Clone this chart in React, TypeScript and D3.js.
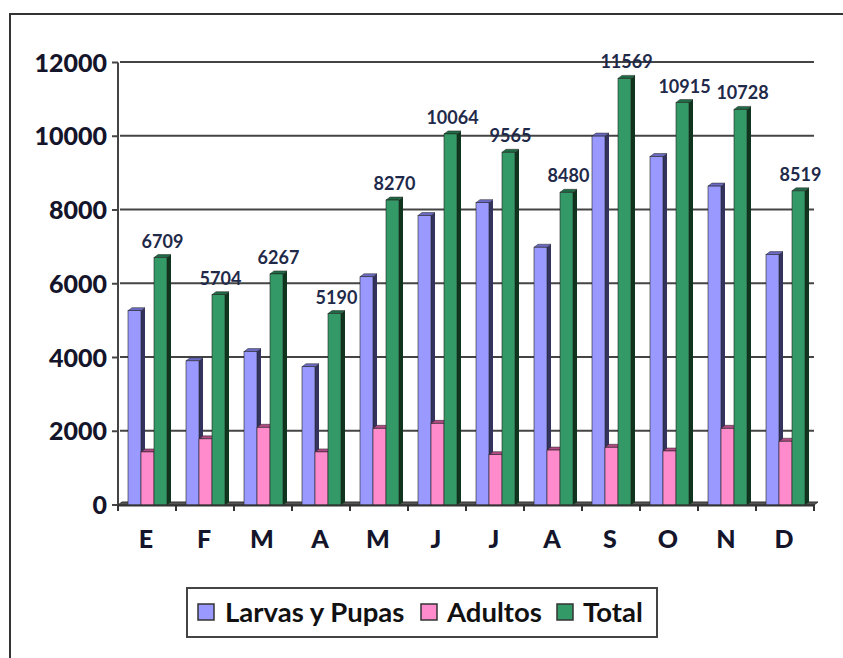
import React from "react";
import * as d3 from "d3";

const months = ["E", "F", "M", "A", "M", "J", "J", "A", "S", "O", "N", "D"];
const larvas = [5270, 3910, 4160, 3750, 6190, 7850, 8200, 6990, 10004, 9450, 8648, 6790];
const adultos = [1439, 1794, 2107, 1440, 2080, 2214, 1365, 1490, 1565, 1465, 2080, 1729];
const totals = [6709, 5704, 6267, 5190, 8270, 10064, 9565, 8480, 11569, 10915, 10728, 8519];
const yTicks = [0, 2000, 4000, 6000, 8000, 10000, 12000];
const seriesNames = ["Larvas y Pupas", "Adultos", "Total"];

const W = 843;
const H = 658;
const FONT = "Lato, 'Open Sans', sans-serif";

const colors = [
  { front: "#9999ff", side: "#33335e", top: "#6b6bc4" },
  { front: "#ff8acc", side: "#7a2950", top: "#b04a84" },
  { front: "#339966", side: "#10351f", top: "#1f6b45" },
];

export default function App() {
  const y = d3.scaleLinear().domain([0, 12000]).range([505, 62.5]);
  const x = d3
    .scaleBand<number>()
    .domain(months.map((_, i) => i))
    .range([118, 814])
    .padding(0);
  const inner = d3.scaleBand<number>().domain([0, 1, 2]).range([10, 49]).padding(0);
  const dx = 4;
  const dy = -3;
  const y0 = y(0);
  const series = [larvas, adultos, totals];

  const bar = (xs: number, w: number, v: number, c: { front: string; side: string; top: string }, key: string) => {
    const yt = y(v);
    return (
      <g key={key}>
        <polygon
          points={`${xs + w},${yt} ${xs + w + dx},${yt + dy} ${xs + w + dx},${y0 + dy} ${xs + w},${y0}`}
          fill={c.side}
        />
        <polygon
          points={`${xs},${yt} ${xs + dx},${yt + dy} ${xs + w + dx},${yt + dy} ${xs + w},${yt}`}
          fill={c.top}
          stroke="#222"
          strokeWidth={0.5}
        />
        <rect x={xs} y={yt} width={w} height={y0 - yt} fill={c.front} stroke="#222" strokeWidth={0.6} />
      </g>
    );
  };

  const legendX = [198, 421, 557];
  const legendTextX = [225, 447, 583];

  return (
    <div style={{ position: "absolute", left: 0, top: 0 }}>
      <svg width={W} height={H} style={{ display: "block", background: "#fff" }}>
        <rect x={10} y={14} width={850} height={670} fill="#fff" stroke="#333" strokeWidth={2} />
        {/* gridlines */}
        {yTicks.slice(1).map((t) => (
          <line key={"g" + t} x1={120} x2={814} y1={y(t) - 0.5} y2={y(t) - 0.5} stroke="#444" strokeWidth={2} />
        ))}
        {/* y axis */}
        <line x1={118} x2={118} y1={y(12000)} y2={y0 + 1} stroke="#444" strokeWidth={2} />
        {yTicks.map((t) => (
          <g key={"t" + t}>
            <line x1={112} x2={118} y1={y(t)} y2={y(t)} stroke="#444" strokeWidth={2} />
            <text
              x={107}
              y={y(t)}
              dy="0.36em"
              textAnchor="end"
              fontFamily={FONT}
              fontWeight="900"
              fontSize={25}
              fill="#14142a"
            >
              {t}
            </text>
          </g>
        ))}
        {/* floor */}
        <polygon
          points={`118,${y0} ${118 + dx},${y0 + dy} ${814 + dx},${y0 + dy} 814,${y0}`}
          fill="#555"
          stroke="#333"
          strokeWidth={1}
        />
        {/* bars */}
        {months.map((_, i) => (
          <g key={"c" + i}>
            {series.map((s, j) =>
              bar((x(i) as number) + (inner(j) as number), inner.bandwidth(), s[i], colors[j], `b${i}-${j}`)
            )}
          </g>
        ))}
        {/* x axis */}
        <line x1={118} x2={814} y1={y0 + 0.5} y2={y0 + 0.5} stroke="#333" strokeWidth={2} />
        {d3.range(13).map((k) => {
          const xx = 118 + k * x.bandwidth();
          return <line key={"xt" + k} x1={xx} x2={xx} y1={y0} y2={y0 + 6} stroke="#333" strokeWidth={2} />;
        })}
        {months.map((m, i) => (
          <text
            key={"xl" + i}
            x={(x(i) as number) + x.bandwidth() / 2 - 1}
            y={548}
            textAnchor="middle"
            fontFamily={FONT}
            fontWeight="900"
            fontSize={25}
            fill="#14142a"
          >
            {m}
          </text>
        ))}
        {/* data labels */}
        {totals.map((v, i) => (
          <text
            key={"dl" + i}
            x={(x(i) as number) + (inner(2) as number) + inner.bandwidth() / 2 + 2}
            y={y(v) - 10}
            textAnchor="middle"
            fontFamily={FONT}
            fontWeight="bold"
            fontSize={18}
            fill="#1f2a4a"
          >
            {v}
          </text>
        ))}
        {/* legend */}
        <rect x={187} y={588} width={470} height={49} fill="#fff" stroke="#444" strokeWidth={2} />
        {seriesNames.map((n, j) => (
          <g key={"lg" + j}>
            <rect x={legendX[j]} y={604} width={16} height={16} fill={colors[j].front} stroke="#333" strokeWidth={1.5} />
            <text x={legendTextX[j]} y={622} fontFamily={FONT} fontWeight="bold" fontSize={27.5} fill="#111">
              {n}
            </text>
          </g>
        ))}
      </svg>
    </div>
  );
}
